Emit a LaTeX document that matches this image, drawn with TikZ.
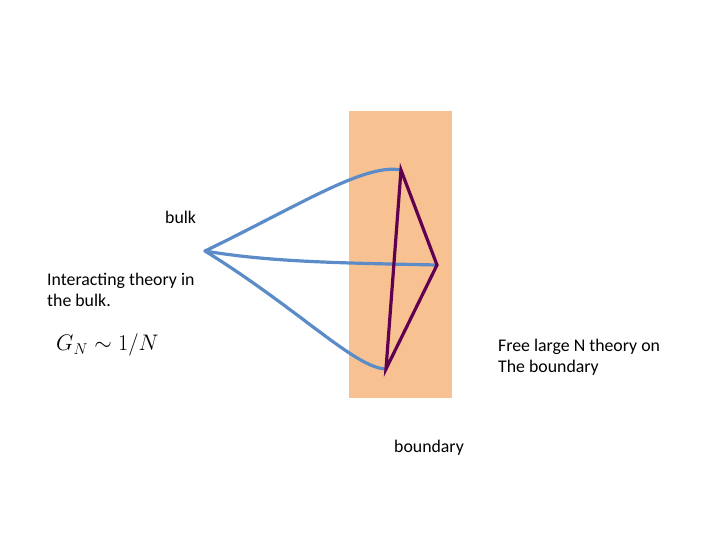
\documentclass[tikz,border=0pt]{standalone}
\usepackage{fontspec}
\setmainfont{Carlito}
\usepackage{amsmath}
\usepackage{graphicx}
\begin{document}
\begin{tikzpicture}[x=1pt,y=-1pt,
  lbl/.style={font=\fontsize{17.8}{21}\selectfont, inner sep=0pt, align=left},
  blueline/.style={draw={rgb,255:red,91;green,140;blue,200}, line width=3.2pt, line cap=round},
  purpline/.style={draw={rgb,255:red,96;green,0;blue,80}, line width=3.2pt, line join=miter, line cap=round}]
\useasboundingbox (0,0) rectangle (720,540);
\fill[fill={rgb,255:red,248;green,193;blue,145}] (349,111) rectangle (452,398);
\coordinate (A) at (205,251);
\coordinate (T) at (401,170);
\coordinate (R) at (437,265);
\coordinate (B) at (386,369);
\draw[blueline] (A) .. controls (300,205) and (365,163) .. (T);
\draw[blueline] (A) .. controls (270,262) and (340,263) .. (R);
\draw[blueline] (A) .. controls (300,310) and (355,368) .. (B);
\draw[purpline] (T) -- (R) -- (B) -- cycle;
\node[lbl, anchor=west] (bulk) at (165,217) {bulk};
\node[lbl, anchor=north west] (inter) at (47,273) {Interacting theory in\\the bulk.};
\node[anchor=west, inner sep=0pt, font=\fontsize{20.74}{25}\selectfont] (gn) at (56,345) {\scalebox{1.085}{$G_N \sim 1/N$}};
\node[lbl, anchor=north west] (free) at (498,339) {Free large N theory on\\The boundary};
\node[lbl, anchor=west] (bdy) at (394,448) {boundary};
\end{tikzpicture}
\end{document}
